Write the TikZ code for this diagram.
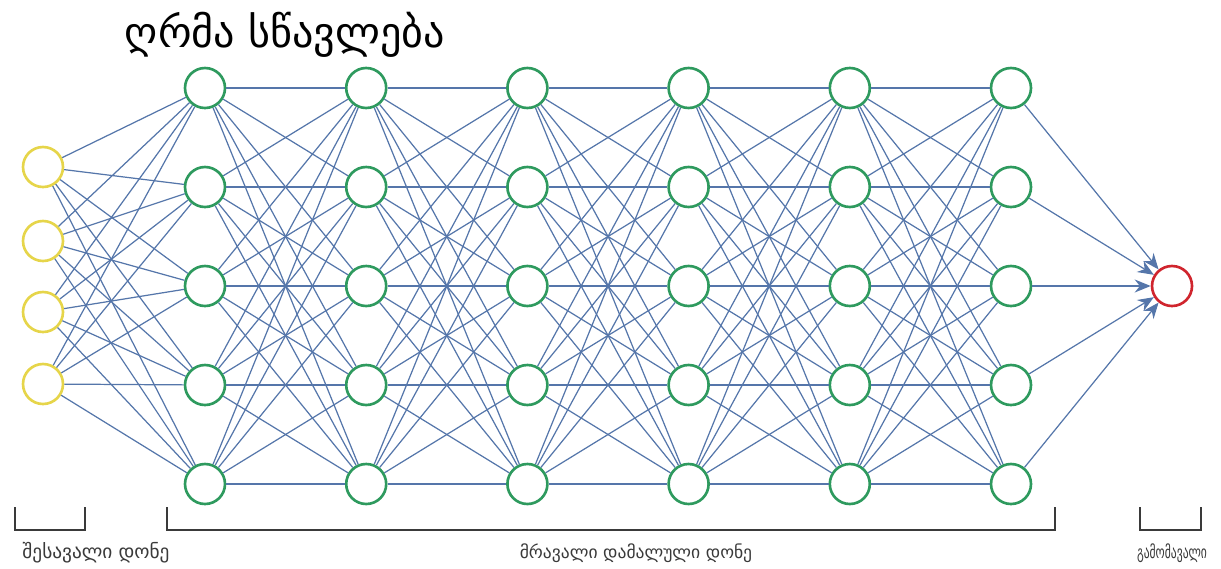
\documentclass[tikz,border=0pt]{standalone}
\usepackage{fontspec}
\newfontfamily\geofont{DejaVu Sans}
\usetikzlibrary{arrows.meta, positioning}
\definecolor{inyellow}{HTML}{E6D54A}
\definecolor{hidgreen}{HTML}{2E9A5E}
\definecolor{outred}{HTML}{D0252E}
\definecolor{linkblue}{HTML}{5576AA}
\definecolor{brkgray}{HTML}{3A3A3A}

\begin{document}
\begin{tikzpicture}[
    >=Stealth,
    x=0.1mm, y=-0.1mm,
    inp/.style={circle, draw=inyellow, fill=white, line width=0.75pt, minimum size=4mm, inner sep=0pt},
    hid/.style={circle, draw=hidgreen, fill=white, line width=0.75pt, minimum size=4mm, inner sep=0pt},
    outn/.style={circle, draw=outred, fill=white, line width=0.75pt, minimum size=4mm, inner sep=0pt},
    link/.style={draw=linkblue, line width=0.35pt},
    outlink/.style={link, -{Stealth[length=1.6mm, width=1.3mm]}},
    brk/.style={draw=brkgray, line width=0.7pt},
    ttl/.style={font=\geofont\fontsize{12}{14}\selectfont},
    lbl/.style={font=\geofont\fontsize{5}{6}\selectfont, text=brkgray},
  ]
    \useasboundingbox (0,0) rectangle (1221,568);
    % ===== title =====
    \node[ttl] (title) at (285,35) {ღრმა სწავლება};
    % ===== input layer =====
    \foreach \i/\yy in {1/167, 2/241, 3/312, 4/384}
      \node[inp] (in\i) at (43,\yy) {};
    % ===== hidden layers (6 x 5) =====
    \foreach \c in {1,...,6}
      \foreach \r in {1,...,5}
        \node[hid] (h\c-\r) at ({205+161.2*(\c-1)}, {88+99*(\r-1)}) {};
    % ===== output =====
    \node[outn] (out) at (1172,286) {};

    % ===== connections =====
    \foreach \i in {1,...,4}
      \foreach \r in {1,...,5}
        \draw[link] (in\i) -- (h1-\r);
    \foreach \c [evaluate=\c as \n using int(\c+1)] in {1,...,5}
      \foreach \r in {1,...,5}
        \foreach \s in {1,...,5}
          \draw[link] (h\c-\r) -- (h\n-\s);
    \foreach \r in {1,...,5}
      \draw[outlink] (h6-\r) -- (out);

    % ===== brackets and labels =====
    \draw[brk] (15,507) |- (85,530) -- (85,507);
    \draw[brk] (167,507) |- (1055,530) -- (1055,507);
    \draw[brk] (1140,507) |- (1201,530) -- (1201,507);
    \node[lbl, font=\geofont\fontsize{5.5}{6}\selectfont] (lin) at (96,553) {შესავალი დონე};
    \node[lbl] (lhid) at (636,553) {მრავალი დამალული დონე};
    \node[lbl] (lout) at (1172,553) {\scalebox{0.66}[1]{გამომავალი}};
  \end{tikzpicture}
\end{document}
